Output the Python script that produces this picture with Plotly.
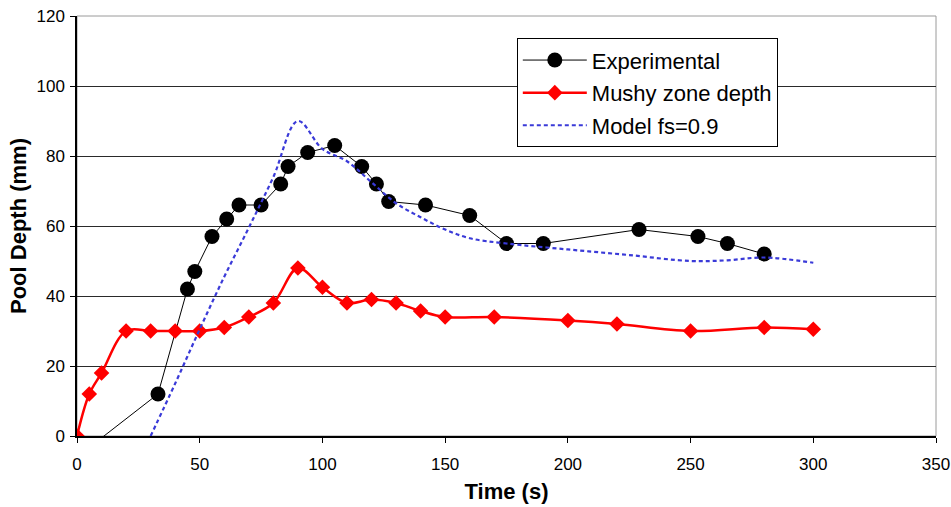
import plotly.graph_objects as go

# Measured pool depth (mm) versus time (s)
exp_time = [0, 33, 45, 48, 55, 61, 66, 75, 83, 86, 94, 105, 116, 122, 127, 142, 160, 175, 190, 229, 253, 265, 280]
exp_depth = [-6, 12, 42, 47, 57, 62, 66, 66, 72, 77, 81, 83, 77, 72, 67, 66, 63, 55, 55, 59, 57, 55, 52]

# Mushy zone depth (mm)
mushy_time = [0, 5, 10, 20, 30, 40, 50, 60, 70, 80, 90, 100, 110, 120, 130, 140, 150, 170, 200, 220, 250, 280, 300]
mushy_depth = [0, 12, 18, 30, 30, 30, 30, 31, 34, 38, 48, 42.5, 38, 39, 38, 35.7, 34, 34, 33, 32, 30, 31, 30.5]

# Model prediction, solid fraction 0.9
model_time = [30, 40, 50, 60, 70, 80, 90, 100, 110, 120, 130, 140, 150, 160, 175, 200, 225, 250, 265, 280, 300]
model_depth = [0, 15, 30.5, 45.5, 59.5, 74, 90, 82, 78.5, 72.5, 66.5, 62.5, 59, 56.5, 55, 53.3, 51.7, 50, 50.2, 51, 49.5]

x_ticks = [0, 50, 100, 150, 200, 250, 300, 350]
y_ticks = [0, 20, 40, 60, 80, 100, 120]

FONT = "Liberation Sans, Arial, sans-serif"

fig = go.Figure()

fig.add_trace(go.Scatter(
    x=exp_time, y=exp_depth, mode="lines+markers", name="Experimental",
    legendgroup="a",
    line=dict(color="black", width=1),
    marker=dict(symbol="circle", size=15, color="black"),
))
fig.add_trace(go.Scatter(
    x=mushy_time, y=mushy_depth, mode="lines+markers", name="Mushy zone depth",
    legendgroup="b",
    line=dict(color="#ff0000", width=2.5, shape="spline"),
    marker=dict(symbol="diamond", size=12, color="#ff0000"),
))
fig.add_trace(go.Scatter(
    x=model_time, y=model_depth, mode="lines", name="Model fs=0.9",
    legendgroup="c",
    line=dict(color="#3a3ad8", width=2.2, dash="4px,3px", shape="spline"),
))

fig.update_layout(
    width=951, height=507,
    margin=dict(l=77, r=15, t=16, b=71, autoexpand=False),
    paper_bgcolor="white", plot_bgcolor="white",
    font=dict(family=FONT, color="black", size=17),
    showlegend=True,
    legend=dict(
        x=0.512, y=0.947, xanchor="left", yanchor="top",
        bgcolor="white", bordercolor="black", borderwidth=1,
        font=dict(family=FONT, size=22, color="black"),
        traceorder="grouped", tracegroupgap=1,
        itemwidth=64,
    ),
    shapes=[dict(type="rect", xref="paper", yref="paper", x0=0, x1=1, y0=0, y1=1,
                 line=dict(color="#9a9a9a", width=1), layer="below")],
)

fig.update_xaxes(
    range=[0, 350], tickvals=x_ticks, ticktext=[str(v) for v in x_ticks],
    showgrid=False, zeroline=False, automargin=False,
    showline=True, linecolor="black", linewidth=1.5,
    ticks="outside", ticklen=5, tickcolor="black", ticklabelstandoff=7,
    tickfont=dict(family=FONT, size=17),
    title=dict(text="<b>Time (s)</b>", font=dict(family=FONT, size=22), standoff=10),
)
fig.update_yaxes(
    range=[0, 120], tickvals=y_ticks, ticktext=[str(v) for v in y_ticks],
    showgrid=True, gridcolor="#2a2a2a", gridwidth=1, zeroline=False, automargin=False,
    showline=True, linecolor="black", linewidth=1.5,
    ticks="outside", ticklen=5, tickcolor="black", ticklabelstandoff=2,
    tickfont=dict(family=FONT, size=17),
    title=dict(text="<b>Pool Depth (mm)</b>", font=dict(family=FONT, size=22), standoff=4),
)

fig.write_html("out.html")
